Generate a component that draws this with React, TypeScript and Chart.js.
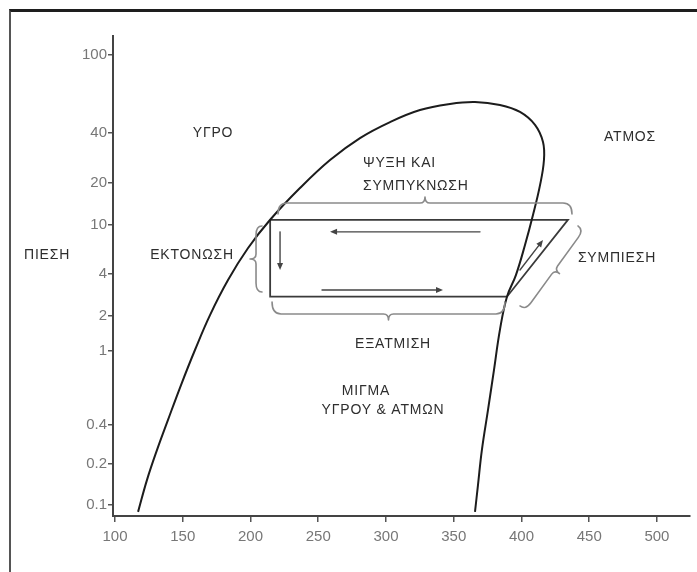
import React, { useEffect, useRef } from "react";
import { Chart, registerables } from "chart.js";

Chart.register(...registerables);

// ---- Axis definitions ----
const PRESSURE_TICKS = [0.1, 0.2, 0.4, 1, 2, 4, 10, 20, 40, 100];
const PRESSURE_TICK_LABELS = ["0.1", "0.2", "0.4", "1", "2", "4", "10", "20", "40", "100"];
// schematic (non-uniform) placement of the pressure ticks along the axis
const PRESSURE_TICK_POS = [11, 52, 91, 165, 200, 242, 291, 333, 383, 461];
const ENTHALPY_TICKS = [100, 150, 200, 250, 300, 350, 400, 450, 500];

// ---- Saturation dome (enthalpy, pressure) ----
const DOME_H = [117.0, 123.6, 131.0, 139.1, 148.7, 159.0, 170.1, 183.4, 198.2, 214.5, 236.5, 258.7, 280.8, 303.0, 325.1, 347.2, 365.7, 384.1, 398.9, 410.0, 415.9, 416.6, 413.7, 408.5, 402.6, 395.9, 389.3, 384.1, 379.7, 375.3, 370.8, 367.9, 365.7];
const DOME_P = [0.089, 0.153, 0.257, 0.426, 0.656, 1.02, 2.03, 3.62, 6.5, 10.9, 18.4, 27.5, 37.3, 45.5, 52.4, 56.3, 57.6, 55.6, 51.2, 44.0, 35.3, 27.5, 19.3, 11.8, 6.88, 3.93, 2.75, 1.52, 0.79, 0.482, 0.257, 0.14, 0.089];

// ---- Refrigeration cycle ----
const CYCLE_H = [214.5, 434.3, 389.3, 214.5, 214.5];
const CYCLE_P = [10.9, 10.9, 2.75, 2.75, 10.9];

// ---- Arrows (from -> to) ----
const ARROW_FROM_H = [369.4, 252.8, 221.8, 398.9];
const ARROW_FROM_P = [8.8, 3.07, 8.8, 4.31];
const ARROW_TO_H = [258.7, 342.1, 221.8, 415.9];
const ARROW_TO_P = [8.8, 3.07, 4.31, 7.55];

// ---- Braces ----
const BRACE_H1 = [220.3, 215.9, 208.5, 441.7];
const BRACE_P1 = [12.0, 2.52, 9.82, 9.82];
const BRACE_H2 = [437.3, 387.8, 208.5, 398.9];
const BRACE_P2 = [12.0, 2.52, 2.97, 2.36];
const BRACE_SIDE = [-1, 1, 1, -1];
const BRACE_DEPTH = [11, 12, 6, 7];

// ---- Text labels ----
const LABEL_TEXT = ["ΥΓΡΟ", "ΑΤΜΟΣ", "ΨΥΞΗ ΚΑΙ", "ΣΥΜΠΥΚΝΩΣΗ", "ΠΙΕΣΗ", "ΕΚΤΟΝΩΣΗ", "ΣΥΜΠΙΕΣΗ", "ΕΞΑΤΜΙΣΗ", "ΜΙΓΜΑ", "ΥΓΡΟΥ & ΑΤΜΩΝ"];
const LABEL_H = [172.3, 480.1, 283.0, 283.0, 49.8, 156.8, 470.5, 305.2, 285.2, 297.8];
const LABEL_P = [40, 38, 26.4, 19.0, 5.7, 5.7, 5.4, 1.15, 0.61, 0.48];
const LABEL_ALIGN = ["center", "center", "left", "left", "center", "center", "center", "center", "center", "center"];

function pToPos(p: number): number {
  const n = PRESSURE_TICKS.length;
  let i = 0;
  while (i < n - 2 && p > PRESSURE_TICKS[i + 1]) i++;
  const p0 = PRESSURE_TICKS[i], p1 = PRESSURE_TICKS[i + 1];
  const s0 = PRESSURE_TICK_POS[i], s1 = PRESSURE_TICK_POS[i + 1];
  const t = (Math.log(p) - Math.log(p0)) / (Math.log(p1) - Math.log(p0));
  return s0 + t * (s1 - s0);
}

const FONT = "'Liberation Sans', Arial, Helvetica, sans-serif";

function drawBrace(ctx: CanvasRenderingContext2D, ax: number, ay: number, bx: number, by: number, side: number, d: number) {
  const len = Math.hypot(bx - ax, by - ay);
  const ux = (bx - ax) / len, uy = (by - ay) / len;
  const nx = side * -uy, ny = side * ux;
  const e = 6;
  const r = Math.min(9, len / 6);
  const mx = (ax + bx) / 2, my = (ay + by) / 2;
  const half = (sx: number, sy: number, dir: number) => {
    ctx.moveTo(sx, sy);
    ctx.quadraticCurveTo(sx + nx * d, sy + ny * d, sx + nx * d + ux * r * dir, sy + ny * d + uy * r * dir);
    ctx.lineTo(mx + nx * d - ux * 5 * dir, my + ny * d - uy * 5 * dir);
    ctx.quadraticCurveTo(mx + nx * d, my + ny * d, mx + nx * (d + e), my + ny * (d + e));
  };
  ctx.beginPath();
  half(ax, ay, 1);
  half(bx, by, -1);
  ctx.stroke();
}

const annotationPlugin = {
  id: "annotations",
  afterDatasetsDraw(chart: any) {
    const ctx: CanvasRenderingContext2D = chart.ctx;
    const xs = chart.scales.x, ys = chart.scales.y;
    const px = (h: number) => xs.getPixelForValue(h);
    const py = (p: number) => ys.getPixelForValue(pToPos(p));
    ctx.save();
    // braces
    ctx.strokeStyle = "#8a8a8a";
    ctx.lineWidth = 1.6;
    ctx.lineJoin = "round";
    ctx.lineCap = "round";
    for (let i = 0; i < BRACE_H1.length; i++) {
      drawBrace(ctx, px(BRACE_H1[i]), py(BRACE_P1[i]), px(BRACE_H2[i]), py(BRACE_P2[i]), BRACE_SIDE[i], BRACE_DEPTH[i]);
    }
    // arrows
    ctx.strokeStyle = "#444";
    ctx.fillStyle = "#444";
    ctx.lineWidth = 1.4;
    for (let i = 0; i < ARROW_FROM_H.length; i++) {
      const x0 = px(ARROW_FROM_H[i]), y0 = py(ARROW_FROM_P[i]);
      const x1 = px(ARROW_TO_H[i]), y1 = py(ARROW_TO_P[i]);
      const a = Math.atan2(y1 - y0, x1 - x0);
      const hl = 7, hw = 3;
      ctx.beginPath();
      ctx.moveTo(x0, y0);
      ctx.lineTo(x1 - Math.cos(a) * hl * 0.6, y1 - Math.sin(a) * hl * 0.6);
      ctx.stroke();
      ctx.beginPath();
      ctx.moveTo(x1, y1);
      ctx.lineTo(x1 - Math.cos(a) * hl - Math.sin(a) * hw, y1 - Math.sin(a) * hl + Math.cos(a) * hw);
      ctx.lineTo(x1 - Math.cos(a) * hl + Math.sin(a) * hw, y1 - Math.sin(a) * hl - Math.cos(a) * hw);
      ctx.closePath();
      ctx.fill();
    }
    // labels
    ctx.fillStyle = "#2e2e2e";
    ctx.font = `14px ${FONT}`;
    (ctx as any).letterSpacing = "0.8px";
    ctx.textBaseline = "middle";
    for (let i = 0; i < LABEL_TEXT.length; i++) {
      ctx.textAlign = LABEL_ALIGN[i] as CanvasTextAlign;
      ctx.fillText(LABEL_TEXT[i], px(LABEL_H[i]), py(LABEL_P[i]));
    }
    ctx.restore();
  },
};

export default function App() {
  const ref = useRef<HTMLCanvasElement>(null);
  useEffect(() => {
    if (!ref.current) return;
    const chart = new Chart(ref.current, {
      type: "line",
      data: {
        datasets: [
          {
            label: "dome",
            data: DOME_H.map((h, i) => ({ x: h, y: pToPos(DOME_P[i]) })),
            borderColor: "#1c1c1c",
            borderWidth: 2,
            pointRadius: 0,
            tension: 0.4,
            fill: false,
          },
          {
            label: "cycle",
            data: CYCLE_H.map((h, i) => ({ x: h, y: pToPos(CYCLE_P[i]) })),
            borderColor: "#3a3a3a",
            borderWidth: 1.8,
            pointRadius: 0,
            tension: 0,
            fill: false,
          },
        ],
      },
      options: {
        animation: false,
        responsive: false,
        maintainAspectRatio: false,
        devicePixelRatio: 1,
        layout: { padding: { left: 0, top: 36, right: 7, bottom: 0 } },
        plugins: { legend: { display: false }, tooltip: { enabled: false } },
        scales: {
          x: {
            type: "linear",
            min: 98.5,
            max: 524.4,
            afterBuildTicks: (scale: any) => {
              scale.ticks = ENTHALPY_TICKS.map((v) => ({ value: v }));
            },
            afterFit: (scale: any) => {
              scale.height = 56;
            },
            grid: { drawOnChartArea: false, drawTicks: true, tickLength: 6, color: "#555", lineWidth: 1.5 },
            border: { display: true, color: "#444", width: 2 },
            ticks: {
              padding: 6,
              color: "#777",
              font: { family: FONT, size: 15 },
              autoSkip: false,
              maxRotation: 0,
            },
          },
          y: {
            type: "linear",
            min: 0,
            max: 480,
            afterBuildTicks: (scale: any) => {
              scale.ticks = PRESSURE_TICKS.map((p) => ({ value: pToPos(p) }));
            },
            afterFit: (scale: any) => {
              scale.width = 113;
            },
            grid: { drawOnChartArea: false, drawTicks: true, tickLength: 5, color: "#555", lineWidth: 1.5 },
            border: { display: true, color: "#444", width: 2 },
            ticks: {
              padding: 1,
              color: "#777",
              font: { family: FONT, size: 15 },
              autoSkip: false,
              callback: (_v: any, i: number) => PRESSURE_TICK_LABELS[i],
            },
          },
        },
      },
      plugins: [annotationPlugin],
    });
    return () => chart.destroy();
  }, []);

  return (
    <div style={{ position: "fixed", left: 0, top: 0, width: 697, height: 572, background: "#fff" }}>
      <canvas ref={ref} width={697} height={572} style={{ position: "absolute", left: 0, top: 0, width: 697, height: 572 }} />
      <div
        style={{
          position: "absolute",
          left: 9,
          top: 9,
          width: 697 - 9,
          height: 572 - 9,
          borderTop: "3px solid #1e1e1e",
          borderLeft: "2px solid #555",
          boxSizing: "border-box",
          pointerEvents: "none",
        }}
      />
    </div>
  );
}
